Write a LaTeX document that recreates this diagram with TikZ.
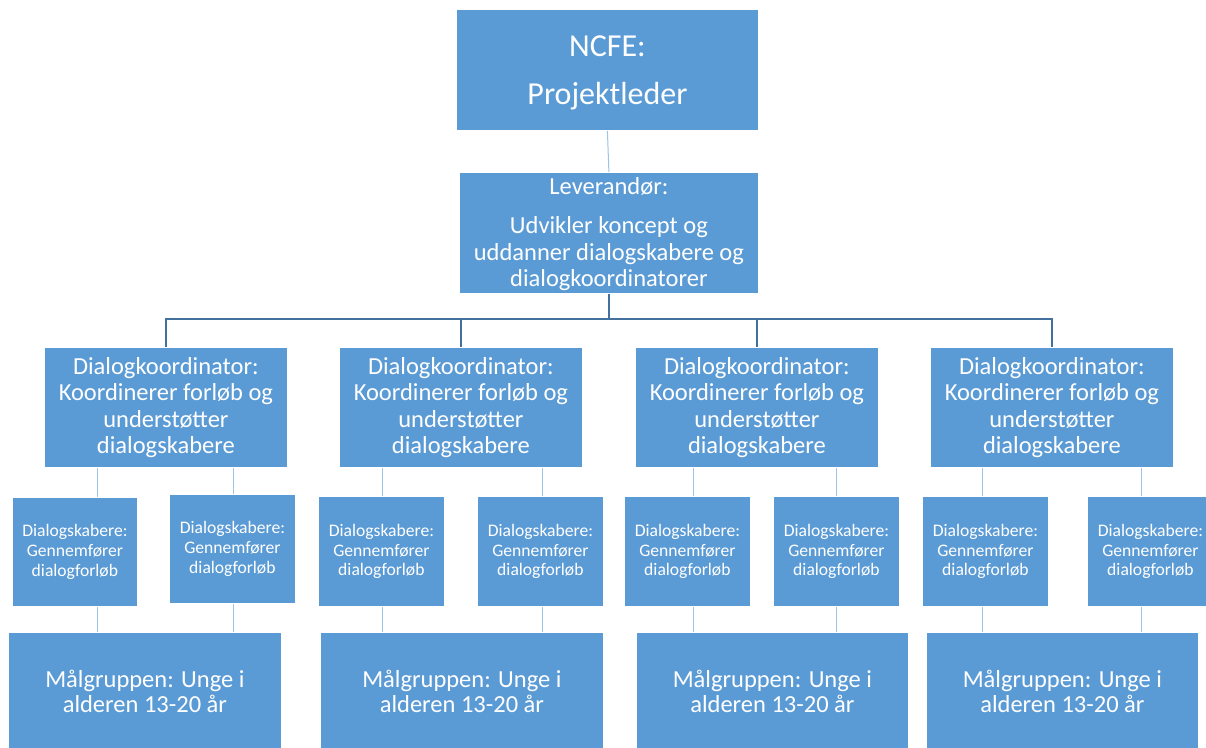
\documentclass[tikz,border=0pt]{standalone}
\usepackage{fontspec}
\setmainfont{Carlito}
\definecolor{boxblue}{HTML}{5B9BD5}
\definecolor{linelight}{HTML}{9DC3E6}
\definecolor{linedark}{HTML}{41719C}
\begin{document}
\begin{tikzpicture}[x=1pt,y=-1pt,
  box/.style={fill=boxblue, draw=white, line width=0.8pt, text=white, align=center, inner sep=0pt, anchor=north west},
  ftop/.style={font=\fontsize{32}{48}\selectfont},
  fmid/.style={font=\fontsize{24.5}{26.5}\selectfont},
  fsmall/.style={font=\fontsize{17.6}{19.6}\selectfont},
  fgoal/.style={font=\fontsize{24.5}{25.5}\selectfont},
  light/.style={draw=linelight, line width=1pt},
  dark/.style={draw=linedark, line width=1.6pt}]
\useasboundingbox (0,0) rectangle (1206,747);
\clip (0,0) rectangle (1206,747);
\fill[white] (0,0) rectangle (1206,747);
% top
\node[box, ftop, minimum width=302, minimum height=121] (ncfe) at (456,9) {\rule{0pt}{26pt}NCFE:\\Projektleder};
\node[box, fmid, minimum width=299, minimum height=121] (lev) at (459,172) {\rule{0pt}{19pt}Leverandør:\\[13pt]Udvikler koncept og\\uddanner dialogskabere og\\dialogkoordinatorer};
% coordinators
\foreach \n/\x in {c1/44, c2/339, c3/635, c4/930}
  \node[box, fmid, minimum width=243, minimum height=120] (\n) at (\x,347) {Dialogkoordinator:\\Koordinerer forløb og\\understøtter\\dialogskabere};
% dialogskabere
\node[box, fsmall, minimum width=125, minimum height=109] (d1) at (12,497) {Dialogskabere:\\Gennemfører\\dialogforløb};
\node[box, fsmall, minimum width=126, minimum height=109] (d2) at (169,494) {Dialogskabere:\\Gennemfører\\dialogforløb};
\foreach \n/\x in {d3/318, d4/477, d5/624, d6/773, d7/922, d8/1087}
  \node[box, fsmall, minimum width=126, minimum height=110] (\n) at (\x,496) {Dialogskabere:\\Gennemfører\\dialogforløb};
% target groups
\node[box, fgoal, minimum width=273, minimum height=118] (m1) at (8,632) {Målgruppen: Unge i\\alderen 13-20 år};
\node[box, fgoal, minimum width=283, minimum height=118] (m2) at (320,632) {Målgruppen: Unge i\\alderen 13-20 år};
\node[box, fgoal, minimum width=272, minimum height=118] (m3) at (636,632) {Målgruppen: Unge i\\alderen 13-20 år};
\node[box, fgoal, minimum width=272, minimum height=118] (m4) at (926,632) {Målgruppen: Unge i\\alderen 13-20 år};
% connectors
\draw[light] (ncfe.south) -- (lev.north);
\coordinate (bus) at (608,319);
\draw[dark] (lev.south) -- (lev.south |- bus);
\draw[dark] (c1.north) |- (bus) -| (c4.north);
\draw[dark] (c2.north) -- (c2.north |- bus);
\draw[dark] (c3.north) -- (c3.north |- bus);
\foreach \c/\da/\db/\m/\xa/\xb in {c1/d1/d2/m1/97/233, c2/d3/d4/m2/382/542, c3/d5/d6/m3/693/836, c4/d7/d8/m4/982/1141} {
  \coordinate (xa) at (\xa,0);
  \coordinate (xb) at (\xb,0);
  \draw[light] (\c.south -| xa) -- (\da.north -| xa);
  \draw[light] (\c.south -| xb) -- (\db.north -| xb);
  \draw[light] (\da.south -| xa) -- (\m.north -| xa);
  \draw[light] (\db.south -| xb) -- (\m.north -| xb);
}
\end{tikzpicture}
\end{document}
